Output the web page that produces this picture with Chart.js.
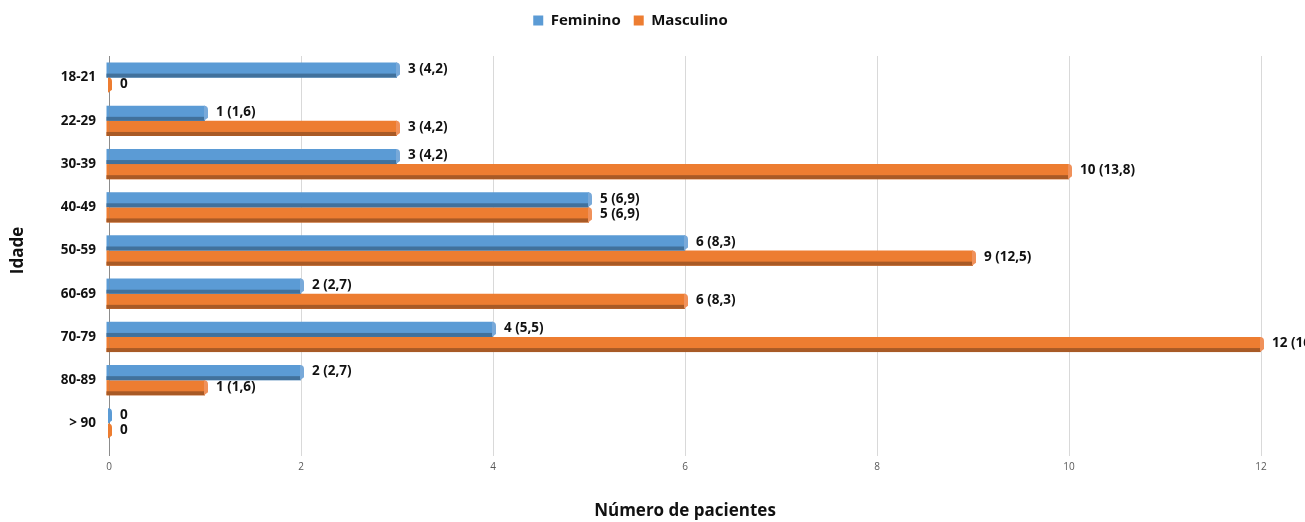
<!DOCTYPE html>
<html>
<head>
<meta charset="utf-8">
<script src="https://cdn.jsdelivr.net/npm/chart.js@4.4.1/dist/chart.umd.min.js"></script>
<style>
  html, body { margin: 0; padding: 0; background: #fff; }
  #wrap { width: 1305px; height: 522px; }
</style>
</head>
<body>
<div id="wrap"><canvas id="idades" width="1305" height="522"></canvas></div>
<script>
const idades = ['18-21', '22-29', '30-39', '40-49', '50-59', '60-69', '70-79', '80-89', '> 90'];
const feminino = [3, 1, 3, 5, 6, 2, 4, 2, 0];
const masculino = [0, 3, 10, 5, 9, 6, 12, 1, 0];
// percentages shown next to the counts
const pctFeminino = ['4,2', '1,6', '4,2', '6,9', '8,3', '2,7', '5,5', '2,7', null];
const pctMasculino = [null, '4,2', '13,8', '6,9', '12,5', '8,3', '16,7', '1,6', null];
const xTicks = [0, 2, 4, 6, 8, 10, 12];

const FONT = "'Open Sans', 'DejaVu Sans', sans-serif";
const shade = {
    Feminino: { dark: '#41719c', light: '#78a9d9' },
    Masculino: { dark: '#a85a26', light: '#f0915a' }
};

// extra room under the legend
const legendGap = {
    id: 'legendGap',
    beforeInit(chart) {
        const fit = chart.legend.fit;
        chart.legend.fit = function () {
            fit.bind(chart.legend)();
            this.height += 18;
        };
    }
};

// darker bottom edge + rounded end cap on each bar
const bar3d = {
    id: 'bar3d',
    afterDatasetsDraw(chart) {
        const ctx = chart.ctx;
        ctx.save();
        chart.data.datasets.forEach((ds, i) => {
            const meta = chart.getDatasetMeta(i);
            const c = shade[ds.label];
            meta.data.forEach(el => {
                const h = el.height, top = el.y - h / 2, bot = el.y + h / 2;
                const x0 = el.base - 3, x1 = el.x;
                if (x1 > el.base) {
                    ctx.fillStyle = ds.backgroundColor;
                    ctx.fillRect(x0, top, 3, h);
                    ctx.fillStyle = c.dark;
                    ctx.fillRect(x0, bot - 4, x1 - x0, 4);
                }
                ctx.fillStyle = x1 > el.base ? c.light : ds.backgroundColor;
                ctx.beginPath();
                ctx.moveTo(x1 - 1, top);
                ctx.quadraticCurveTo(x1 + 3, top, x1 + 3, top + 4);
                ctx.lineTo(x1 + 3, bot - 3);
                ctx.lineTo(x1 - 1, bot);
                ctx.closePath();
                ctx.fill();
            });
        });
        ctx.restore();
    }
};

// "n (pct)" labels to the right of the bars
const valueLabels = {
    id: 'valueLabels',
    afterDatasetsDraw(chart) {
        const ctx = chart.ctx;
        ctx.save();
        ctx.font = 'bold 13.5px ' + FONT;
        ctx.fillStyle = '#111';
        ctx.textBaseline = 'middle';
        ctx.textAlign = 'left';
        const pcts = [pctFeminino, pctMasculino];
        chart.data.datasets.forEach((ds, i) => {
            chart.getDatasetMeta(i).data.forEach((el, j) => {
                const v = ds.data[j];
                const p = pcts[i][j];
                const txt = p ? v + ' (' + p + ')' : String(v);
                ctx.fillText(txt, el.x + 11, el.y - 1);
            });
        });
        ctx.restore();
    }
};

new Chart('idades', {
    type: 'bar',
    data: {
        labels: idades,
        datasets: [{
            label: 'Feminino',
            data: feminino,
            backgroundColor: '#5b9bd5',
            categoryPercentage: 0.7,
            barPercentage: 1.0
        }, {
            label: 'Masculino',
            data: masculino,
            backgroundColor: '#ed7d31',
            categoryPercentage: 0.7,
            barPercentage: 1.0
        }]
    },
    options: {
        indexAxis: 'y',
        responsive: false,
        devicePixelRatio: 1,
        animation: false,
        layout: { padding: { top: 0, left: 0, right: 44, bottom: 0 } },
        scales: {
            x: {
                min: 0,
                max: 12,
                afterBuildTicks(s) { s.ticks = xTicks.map(v => ({ value: v })); },
                afterFit(s) { s.height = 77; },
                grid: {
                    color: ctx => ctx.tick && ctx.tick.value === 0 ? '#8c8c8c' : '#d9d9d9',
                    tickLength: 11,
                    drawTicks: true
                },
                border: { display: false },
                ticks: {
                    padding: 5,
                    color: '#595959',
                    font: { family: FONT, size: 10 }
                },
                title: {
                    display: true,
                    text: 'Número de pacientes',
                    color: '#111',
                    font: { family: FONT, size: 17, weight: 'bold' },
                    padding: { top: 0, bottom: 1 }
                }
            },
            y: {
                afterFit(s) { s.width = 109; },
                grid: { display: false, drawTicks: false },
                border: { display: true, color: '#8c8c8c' },
                ticks: {
                    padding: 13,
                    color: '#111',
                    font: { family: FONT, size: 13.5, weight: 'bold' }
                },
                title: {
                    display: true,
                    text: 'Idade',
                    color: '#111',
                    font: { family: FONT, size: 17, weight: 'bold' },
                    padding: { top: 8, bottom: 0 }
                }
            }
        },
        plugins: {
            legend: {
                position: 'top',
                labels: {
                    boxWidth: 10,
                    boxHeight: 10,
                    padding: 13,
                    color: '#111',
                    font: { family: FONT, size: 15, weight: 'bold' }
                }
            },
            tooltip: { enabled: false }
        }
    },
    plugins: [legendGap, bar3d, valueLabels]
});
</script>
</body>
</html>
